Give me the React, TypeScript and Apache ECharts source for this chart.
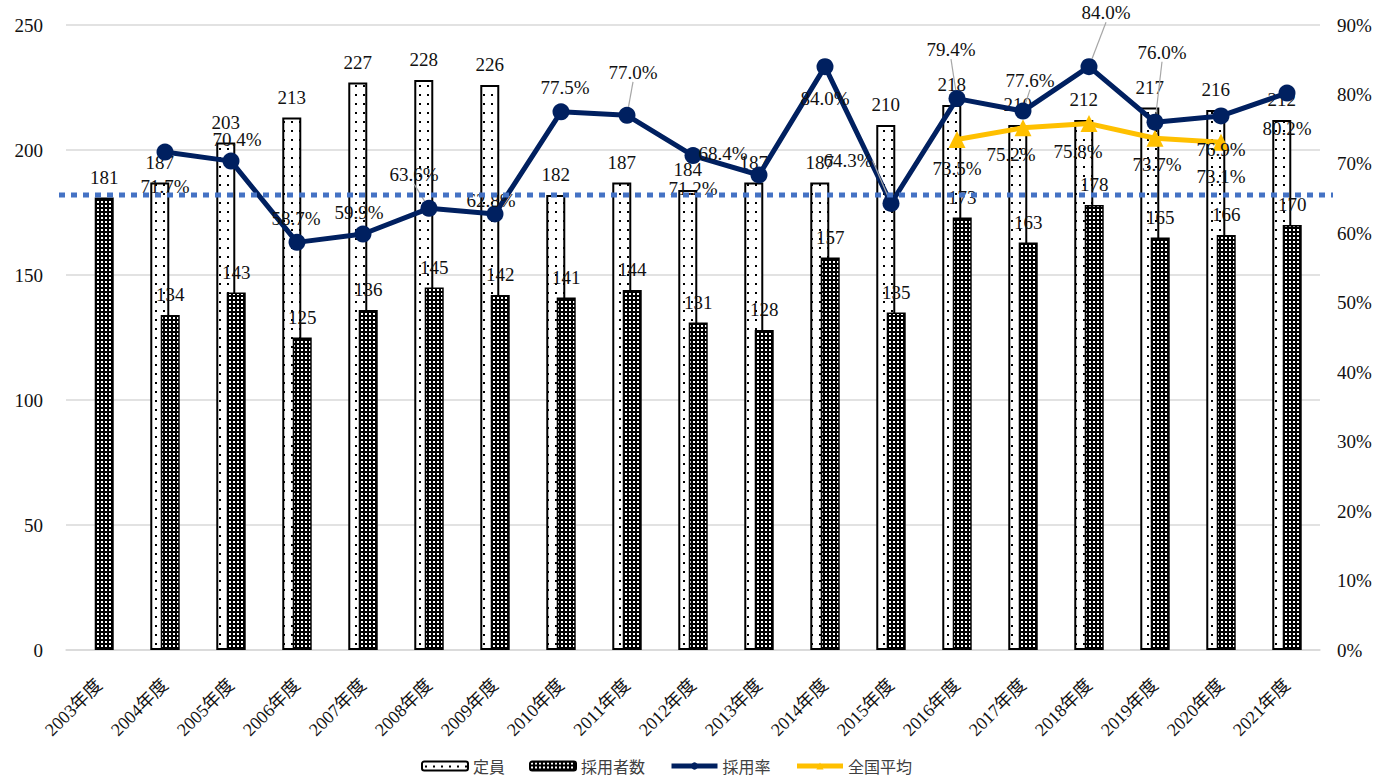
import React, { useEffect, useRef } from 'react';
import * as echarts from 'echarts';

const categories = ['2003年度', '2004年度', '2005年度', '2006年度', '2007年度', '2008年度', '2009年度', '2010年度', '2011年度', '2012年度', '2013年度', '2014年度', '2015年度', '2016年度', '2017年度', '2018年度', '2019年度', '2020年度', '2021年度'];
const capacity = [null, 187, 203, 213, 227, 228, 226, 182, 187, 184, 187, 187, 210, 218, 210, 212, 217, 216, 212];
const hired = [181, 134, 143, 125, 136, 145, 142, 141, 144, 131, 128, 157, 135, 173, 163, 178, 165, 166, 170];
const hireRate = [null, 71.7, 70.4, 58.7, 59.9, 63.6, 62.8, 77.5, 77.0, 71.2, 68.4, 84.0, 64.3, 79.4, 77.6, 84.0, 76.0, 76.9, 80.2];
const nationalAvg = [null, null, null, null, null, null, null, null, null, null, null, null, null, 73.5, 75.2, 75.8, 73.7, 73.1, null];
const referenceLevel = 182;

const seriesNames = ['定員', '採用者数', '採用率', '全国平均'];

// label placement (offsets from point centre), layout only
const rateLabelOffsets = [[0, 0], [0, 34], [6, -22], [-1, -24], [-4, -22], [-15, -34], [-4, -13], [4, -24], [6, -43], [0, 33], [-36, -22], [0, 32], [-43, -43], [-6, -49], [7, -31], [17, -54], [7, -70], [0, 34], [0, 35]];
const rateLeaders = [5, 8, 12, 13, 14, 15, 16];
const avgLabelOffsets = [[0, 29], [-12, 27], [-11, 28], [2, 26], [0, 34]];

const SERIF = "'Liberation Serif', 'Noto Sans CJK JP', serif";
const NAVY = '#002060';
const GOLD = '#FFC000';

function makePattern(kind: 'dots' | 'grid') {
  const c = document.createElement('canvas');
  if (kind === 'dots') {
    c.width = 8; c.height = 9;
    const ctx = c.getContext('2d')!;
    ctx.fillStyle = '#ffffff';
    ctx.fillRect(0, 0, 8, 9);
    ctx.fillStyle = '#000000';
    ctx.fillRect(3, 4, 2, 2);
  } else {
    c.width = 4; c.height = 4;
    const ctx = c.getContext('2d')!;
    ctx.fillStyle = '#000000';
    ctx.fillRect(0, 0, 4, 4);
    ctx.fillStyle = '#ffffff';
    ctx.fillRect(1, 1, 2, 2);
  }
  return { image: c, repeat: 'repeat' } as any;
}

export default function App() {
  const ref = useRef<HTMLDivElement>(null);
  useEffect(() => {
    if (!ref.current) return;
    const chart = echarts.init(ref.current, undefined, { renderer: 'svg' });
    const dots = makePattern('dots');
    const grid = makePattern('grid');
    const barLabel = {
      show: true,
      position: 'top',
      distance: 11,
      fontFamily: SERIF,
      fontSize: 19,
      color: '#111',
    };
    const option: any = {
      animation: false,
      backgroundColor: '#ffffff',
      grid: { left: 66, right: 56, top: 25, bottom: 128, containLabel: false },
      legend: {
        left: 416,
        top: 753,
        itemWidth: 46,
        itemHeight: 9,
        itemGap: 24,
        textStyle: { fontFamily: "'Noto Sans CJK JP', sans-serif", fontSize: 16, color: '#404040' },
        data: [
          { name: seriesNames[0] },
          { name: seriesNames[1] },
          { name: seriesNames[2], lineStyle: { width: 5, color: NAVY }, itemStyle: { color: NAVY } },
          { name: seriesNames[3], lineStyle: { width: 5, color: GOLD }, itemStyle: { color: GOLD } },
        ],
      },
      xAxis: {
        type: 'category',
        data: categories,
        axisLine: { lineStyle: { color: '#d9d9d9', width: 1.5 } },
        axisTick: { show: false },
        axisLabel: { rotate: 45, margin: 32, fontFamily: SERIF, fontSize: 18, color: '#111', interval: 0 },
      },
      yAxis: [
        {
          type: 'value', min: 0, max: 250, interval: 50,
          axisLine: { show: false }, axisTick: { show: false },
          splitLine: { lineStyle: { color: '#d9d9d9', width: 1.5 } },
          axisLabel: { margin: 23, fontFamily: SERIF, fontSize: 19, color: '#111' },
        },
        {
          type: 'value', min: 0, max: 90, interval: 10,
          axisLine: { show: false }, axisTick: { show: false },
          splitLine: { show: false },
          axisLabel: { margin: 17, fontFamily: SERIF, fontSize: 19, color: '#111', formatter: '{value}%' },
        },
      ],
      series: [
        {
          name: seriesNames[0], type: 'bar', data: capacity, barWidth: 19, barGap: '-45%',
          itemStyle: { color: dots, borderColor: '#000', borderWidth: 2 },
          label: barLabel,
        },
        {
          name: seriesNames[1], type: 'bar', data: hired, barWidth: 19, barGap: '-45%',
          itemStyle: { color: grid, borderColor: '#000', borderWidth: 1.5 },
          label: barLabel,
        },
        {
          name: seriesNames[2], type: 'line', yAxisIndex: 1, z: 4,
          data: hireRate.map((v, i) => ({ value: v, labelLine: { show: rateLeaders.includes(i) } })),
          symbol: 'circle', symbolSize: 17,
          lineStyle: { color: NAVY, width: 5 },
          itemStyle: { color: NAVY },
          label: {
            show: true, fontFamily: SERIF, fontSize: 19, color: '#111',
            formatter: (p: any) => (p.value == null ? '' : Number(p.value).toFixed(1) + '%'),
          },
          labelLine: { lineStyle: { color: '#a6a6a6', width: 1.2 } },
          labelLayout: (p: any) => {
            const o = rateLabelOffsets[p.dataIndex] || [0, 0];
            return { x: p.rect.x + p.rect.width / 2 + o[0], y: p.rect.y + p.rect.height / 2 + o[1], align: 'center', verticalAlign: 'middle' };
          },
        },
        {
          name: seriesNames[3], type: 'line', yAxisIndex: 1, z: 3,
          data: nationalAvg,
          symbol: 'triangle', symbolSize: 17,
          lineStyle: { color: GOLD, width: 5 },
          itemStyle: { color: GOLD },
          label: {
            show: true, fontFamily: SERIF, fontSize: 19, color: '#111',
            formatter: (p: any) => (p.value == null ? '' : Number(p.value).toFixed(1) + '%'),
          },
          labelLayout: (p: any) => {
            const firstIdx = nationalAvg.findIndex((v) => v != null);
            const o = avgLabelOffsets[p.dataIndex - firstIdx] || [0, 0];
            return { x: p.rect.x + p.rect.width / 2 + o[0], y: p.rect.y + p.rect.height / 2 + o[1], align: 'center', verticalAlign: 'middle' };
          },
        },
      ],
    };
    chart.setOption(option);
    const y = chart.convertToPixel({ yAxisIndex: 0 }, referenceLevel) as number;
    chart.setOption({
      graphic: [
        {
          type: 'line', z: 100,
          shape: { x1: 59, y1: y, x2: 1333, y2: y },
          style: { stroke: '#4472C4', lineWidth: 5, lineDash: [6, 6] },
        },
      ],
    });
    return () => chart.dispose();
  }, []);
  return <div ref={ref} style={{ width: 1376, height: 778, position: 'absolute', left: 0, top: 0 }} />;
}
